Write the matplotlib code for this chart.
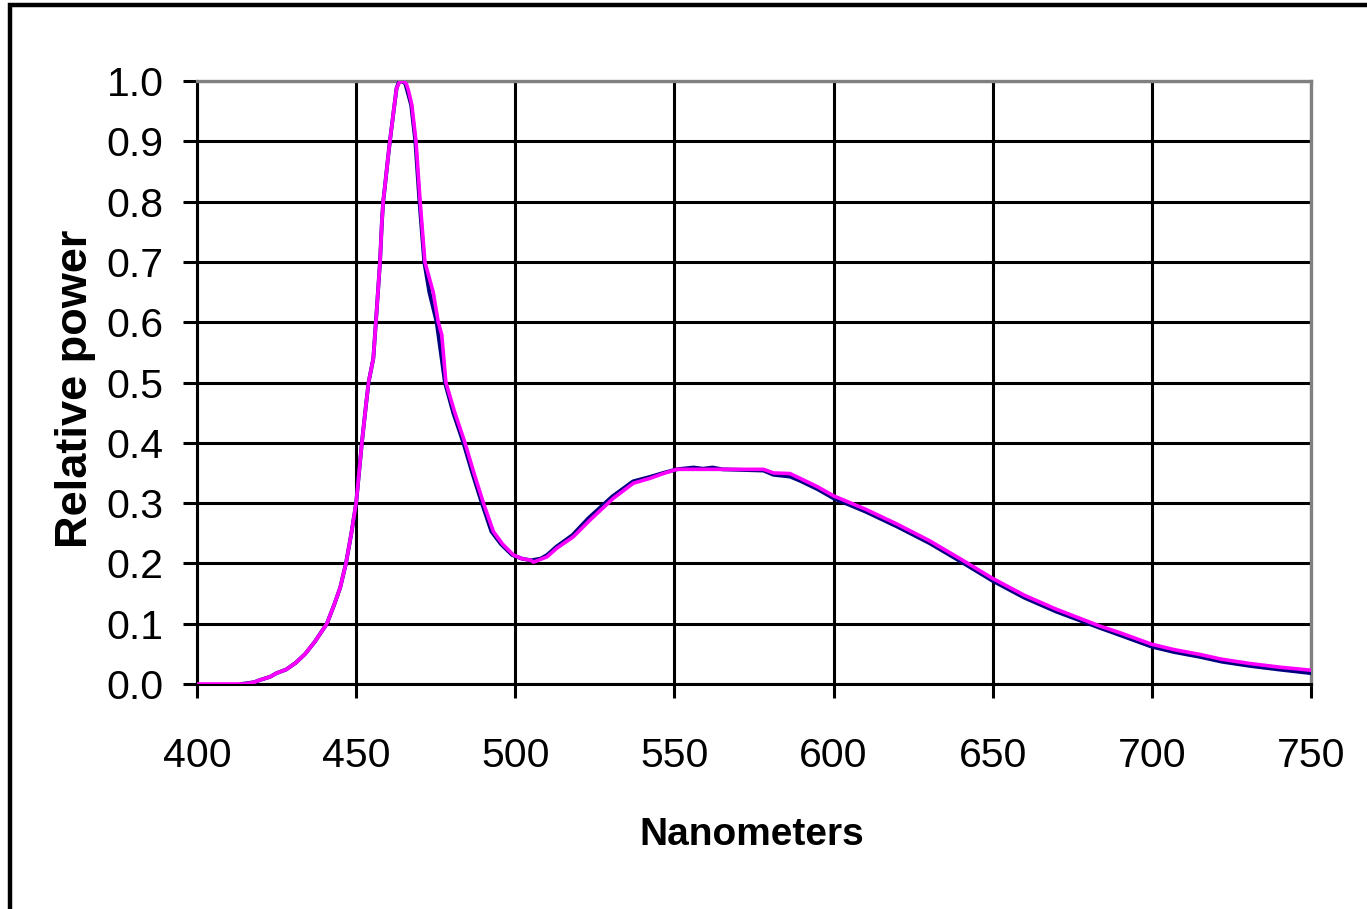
import matplotlib.pyplot as plt
from matplotlib.patches import Rectangle

#================
# Data
#================

nm_pink = [400, 415, 418, 420, 423, 425, 428, 431, 434, 437, 440.8, 443, 445, 446.8,
           448.5, 450, 451.8, 453.1, 453.9, 455.4, 456.2, 457.5, 458.1, 458.5, 459.1,
           460.1, 460.6, 461.9, 462.7, 463.6, 464.8, 465.8, 466.4, 467.5, 468.8, 470.1,
           471.6, 474.2, 475.8, 476.9, 478.2, 481, 484.2, 487, 490,
           493.1, 496, 499.4, 502, 505, 505.7, 510, 513, 518.2, 523.5, 530.8, 537.1,
           542.3, 546.5, 550.7, 565, 578, 581.1, 586.3, 589.5, 595, 600, 610, 620,
           630, 640, 650, 660, 670, 683.7, 690, 699.9, 707, 715.1, 722, 730.8, 740,
           749.7, 750]
pow_pink = [0.0, 0.0, 0.003, 0.007, 0.012, 0.018, 0.024, 0.035, 0.05, 0.07, 0.10, 0.13,
            0.16, 0.20, 0.25, 0.30, 0.40, 0.463, 0.50, 0.54, 0.60, 0.70, 0.767, 0.80,
            0.828, 0.877, 0.90, 0.955, 0.988, 0.998, 1.0, 0.995, 0.985, 0.96, 0.90,
            0.80, 0.70, 0.65, 0.60, 0.579, 0.50, 0.45, 0.40, 0.35, 0.30,
            0.253, 0.232, 0.214, 0.208, 0.205, 0.202, 0.211, 0.225, 0.244, 0.272, 0.308,
            0.333, 0.341, 0.349, 0.356, 0.356, 0.356, 0.350, 0.349, 0.341, 0.327, 0.312,
            0.29, 0.265, 0.238, 0.207, 0.175, 0.147, 0.124, 0.096, 0.085, 0.066, 0.057,
            0.049, 0.041, 0.034, 0.028, 0.023, 0.023]

nm_navy = [414, 418, 420, 423, 425, 428, 431, 434, 437, 440.8, 443, 445, 446.8,
           448.5, 450, 451.8, 453.1, 453.9, 455.4, 456.2, 457.5, 458.1, 458.5, 459.1,
           460.1, 460.6, 461.9, 462.7, 463.4, 464.5, 465.5, 466, 467.3, 468.6, 469.9,
           471.4, 473, 475.3, 477.9, 480.5, 483.7, 486.5, 489.5,
           492.5, 495.5, 499, 502, 505, 508, 510, 513, 518, 523, 530.5, 537,
           542, 546.5, 550.7, 556, 559, 562, 565, 578, 581.1, 586.3, 589.5, 595, 600, 610,
           620, 630, 640, 650, 660, 670, 683.7, 690, 699.9, 707, 715.1, 722, 730.8, 740,
           750]
pow_navy = [0.0, 0.003, 0.007, 0.012, 0.018, 0.024, 0.035, 0.05, 0.07, 0.10, 0.13,
            0.16, 0.20, 0.25, 0.30, 0.40, 0.463, 0.50, 0.54, 0.60, 0.70, 0.767, 0.80,
            0.828, 0.877, 0.90, 0.955, 0.988, 0.998, 1.0, 0.995, 0.985, 0.96, 0.90,
            0.80, 0.70, 0.65, 0.60, 0.50, 0.45, 0.40, 0.35, 0.30,
            0.253, 0.232, 0.214, 0.208, 0.205, 0.208, 0.214, 0.228, 0.247, 0.275, 0.311,
            0.336, 0.343, 0.350, 0.356, 0.359, 0.357, 0.359, 0.356, 0.354, 0.347, 0.344,
            0.337, 0.323, 0.308, 0.286, 0.261, 0.234, 0.203, 0.171, 0.143, 0.120, 0.093,
            0.081, 0.062, 0.053, 0.045, 0.037, 0.030, 0.024, 0.018]

x_ticks = [400, 450, 500, 550, 600, 650, 700, 750]
y_ticks = [0.0, 0.1, 0.2, 0.3, 0.4, 0.5, 0.6, 0.7, 0.8, 0.9, 1.0]

#================
# Plot
#================

plt.rcParams['font.family'] = ['Liberation Sans', 'DejaVu Sans']

fig = plt.figure(figsize=(13.67, 9.09), dpi=100)
ax = fig.add_axes([197 / 1367, 1 - 684 / 909, 1114 / 1367, 603 / 909])

# outer frame, larger than the picture so only left and top show
fig.patches.append(Rectangle((10 / 1367, -0.1), 1.2, 1 - 5 / 909 + 0.1,
                             transform=fig.transFigure, fill=False,
                             edgecolor='black', linewidth=3.2, clip_on=False))

ax.plot(nm_navy, pow_navy, color='#000080', linewidth=2.8, zorder=3)
ax.plot(nm_pink, pow_pink, color='#FF00FF', linewidth=2.6, zorder=4)

ax.set_xlim(400, 750)
ax.set_ylim(0, 1.0)
ax.set_xticks(x_ticks)
ax.set_yticks(y_ticks)
ax.set_xticklabels([str(v) for v in x_ticks])
ax.set_yticklabels(['%.1f' % v for v in y_ticks])

ax.grid(True, color='black', linewidth=2.2)
ax.set_axisbelow(True)

for side in ['left', 'bottom']:
    ax.spines[side].set_color('black')
    ax.spines[side].set_linewidth(2.2)
for side in ['top', 'right']:
    ax.spines[side].set_color('#808080')
    ax.spines[side].set_linewidth(2.4)

ax.tick_params(direction='out', length=10, width=2.2, color='black', labelsize=29.5)
ax.tick_params(axis='y', pad=14)
ax.tick_params(axis='x', pad=28)

ax.set_xlabel('Nanometers', fontsize=28, fontweight='bold')
ax.set_ylabel('Relative power', fontsize=32.5, fontweight='bold')
ax.xaxis.set_label_coords((752 - 197) / 1114, -(817 - 684) / 603)
ax.yaxis.set_label_coords(-(197 - 96) / 1114, (684 - 389) / 603)

fig.savefig('out.png', dpi=100)
